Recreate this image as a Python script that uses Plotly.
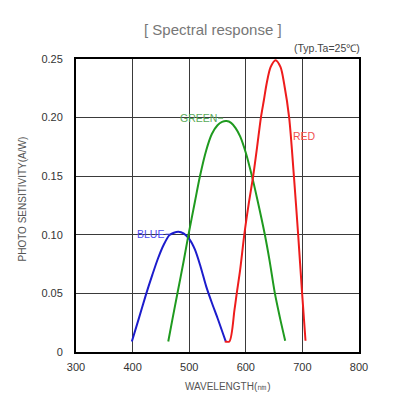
import plotly.graph_objects as go

# ---- data ----
blue_x = [398.7, 410, 424, 435, 445, 455, 465, 473, 481, 490, 500, 510, 520, 530, 540, 550, 564.5]
blue_y = [0.009, 0.027, 0.0496, 0.066, 0.080, 0.0915, 0.0997, 0.1018, 0.1026, 0.1012, 0.0965, 0.0875, 0.073, 0.056, 0.042, 0.029, 0.009]

green_x = [463, 470, 480, 490, 498.6, 510, 519, 530, 540, 550, 558, 566, 574, 582, 590, 600, 611.4, 620, 633.7, 642, 651.4, 660, 669.6]
green_y = [0.009, 0.027, 0.052, 0.077, 0.0997, 0.128, 0.150, 0.172, 0.186, 0.1935, 0.1963, 0.197, 0.1955, 0.191, 0.184, 0.170, 0.149, 0.131, 0.100, 0.078, 0.050, 0.030, 0.0096]

red_x = [563, 571, 580, 584, 590, 597.3, 605, 613, 620, 626.7, 632, 636.7, 643.8, 652.6, 661.4, 667.8, 676.6, 685, 692.5, 699.5, 705.5]
red_y = [0.009, 0.009, 0.036, 0.050, 0.070, 0.100, 0.126, 0.150, 0.175, 0.200, 0.215, 0.2287, 0.243, 0.249, 0.243, 0.2287, 0.200, 0.150, 0.100, 0.050, 0.0096]

x_ticks = [300, 400, 500, 600, 700, 800]
y_ticks = [0, 0.05, 0.10, 0.15, 0.20, 0.25]
y_tick_text = ["0", "0.05", "0.10", "0.15", "0.20", "0.25"]

title_text = "[ Spectral response ]"
cond_text = "(Typ.Ta=25℃)"
x_title = "WAVELENGTH(㎚)"
y_title = "PHOTO SENSITIVITY(A/W)"

FONT = "Liberation Sans, Arial, sans-serif"

fig = go.Figure()
line_common = dict(width=2, shape="spline", smoothing=0.8)
fig.add_trace(go.Scatter(x=blue_x, y=blue_y, mode="lines", line=dict(color="#1c1ccc", **line_common), hoverinfo="skip"))
fig.add_trace(go.Scatter(x=green_x, y=green_y, mode="lines", line=dict(color="#1f9a1f", **line_common), hoverinfo="skip"))
fig.add_trace(go.Scatter(x=red_x, y=red_y, mode="lines", line=dict(color="#ee1c1c", **line_common), hoverinfo="skip"))

annotations = [
    dict(x=0.5, y=1.0, xref="paper", yref="paper", xanchor="center", yanchor="middle",
         text=title_text, showarrow=False, xshift=-5, yshift=30, font=dict(size=15, color="#777777", family=FONT)),
    dict(x=1.0, y=1.0, xref="paper", yref="paper", xanchor="right", yanchor="middle",
         text=cond_text, showarrow=False, xshift=3, yshift=11, font=dict(size=10.5, color="#444444", family=FONT)),
    dict(x=0.5, y=0.0, xref="paper", yref="paper", xanchor="center", yanchor="middle",
         text=x_title, showarrow=False, xshift=10, yshift=-34, font=dict(size=10, color="#555555", family=FONT)),
    dict(x=0.0, y=0.5, xref="paper", yref="paper", xanchor="center", yanchor="middle",
         text=y_title, showarrow=False, textangle=-90, xshift=-54, yshift=6, font=dict(size=10, color="#555555", family=FONT)),
    dict(x=467, y=0.1005, xref="x", yref="y", text="BLUE", showarrow=True, arrowhead=0,
         arrowwidth=1, arrowcolor="#4646e6", ax=-20, ay=0, standoff=0,
         font=dict(size=10.5, color="#4a4aee", family=FONT)),
    dict(x=560, y=0.1995, xref="x", yref="y", text="GREEN", showarrow=True, arrowhead=0,
         arrowwidth=1, arrowcolor="#55aa55", ax=-25, ay=0, standoff=0,
         font=dict(size=10.5, color="#5aaa5a", family=FONT)),
    dict(x=703, y=0.184, xref="x", yref="y", text="RED", showarrow=False,
         font=dict(size=10.5, color="#f05050", family=FONT)),
]

# page body has an 8px default margin, so the figure is sized to fill the rest of the window
fig.update_layout(
    width=394, height=391,
    margin=dict(l=68, r=43, t=51, b=47, autoexpand=False),
    paper_bgcolor="white", plot_bgcolor="white",
    showlegend=False,
    annotations=annotations,
    font=dict(family=FONT, color="#333333", size=11),
)
fig.update_xaxes(
    range=[300, 800], tickvals=x_ticks, ticktext=[str(v) for v in x_ticks],
    showgrid=True, gridcolor="#3a3a3a", gridwidth=1,
    showline=True, linecolor="black", linewidth=2, mirror=True,
    zeroline=False, ticks="outside", ticklen=4, tickcolor="rgba(0,0,0,0)",
    tickfont=dict(size=11, color="#333333"), automargin=False,
)
fig.update_yaxes(
    range=[0, 0.25], tickvals=y_ticks, ticktext=y_tick_text,
    showgrid=True, gridcolor="#3a3a3a", gridwidth=1,
    showline=True, linecolor="black", linewidth=2, mirror=True,
    zeroline=False, ticks="outside", ticklen=9, tickcolor="rgba(0,0,0,0)",
    tickfont=dict(size=11, color="#333333"), automargin=False,
)

fig.write_html("out.html")
